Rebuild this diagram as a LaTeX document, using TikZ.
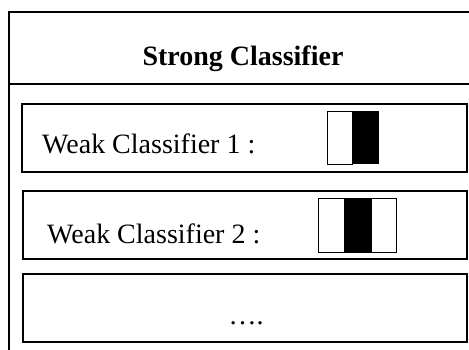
\documentclass[tikz,border=0pt]{standalone}
\usepackage{fontspec}
\setmainfont{Liberation Serif}
\begin{document}
\begin{tikzpicture}[x=1pt,y=-1pt,
  frame/.style={draw=black,line width=1.6pt},
  panel/.style={draw=black,line width=1.5pt,inner sep=0pt,anchor=north west},
  cell/.style={draw=black,line width=1.4pt,inner sep=0pt,anchor=north west},
  label/.style={inner sep=0pt,font=\fontsize{28}{34}\selectfont}]
\useasboundingbox (0,0) rectangle (469,349);
\clip (0,0) rectangle (469,349);

% outer frame with title band
\coordinate (tl) at (9,12);
\coordinate (tr) at (480,12);
\coordinate (bl) at (9,360);
\coordinate (hl) at (9,84);
\coordinate (hr) at (480,84);
\draw[frame] (bl) -- (tl) -- (tr);
\draw[frame] (hl) -- (hr);
\node[label,font=\fontsize{28}{34}\selectfont\bfseries,anchor=base] (title) at (243,65) {Strong Classifier};

% weak classifier panels
\node[panel,minimum width=445pt,minimum height=68pt] (w1) at (21,103) {};
\node[panel,minimum width=444pt,minimum height=68pt] (w2) at (22,190) {};
\node[panel,minimum width=444pt,minimum height=68pt] (w3) at (22,273) {};

\node[label,anchor=base west] (t1) at (42,153) {Weak Classifier 1 :};
\node[label,anchor=base west] (t2) at (47,243) {Weak Classifier 2 :};
\node[label,anchor=base] (t3) at (246,324) {….};

% edge feature
\node[cell,minimum width=25pt,minimum height=53pt] (f1a) at (327,111) {};
\node[cell,fill=black,minimum width=26pt,minimum height=52pt] (f1b) at (352,111) {};

% line feature
\node[cell,minimum width=78pt,minimum height=54pt] (f2a) at (318,198) {};
\node[cell,fill=black,minimum width=27pt,minimum height=54pt] (f2b) at (344,198) {};
\end{tikzpicture}
\end{document}
